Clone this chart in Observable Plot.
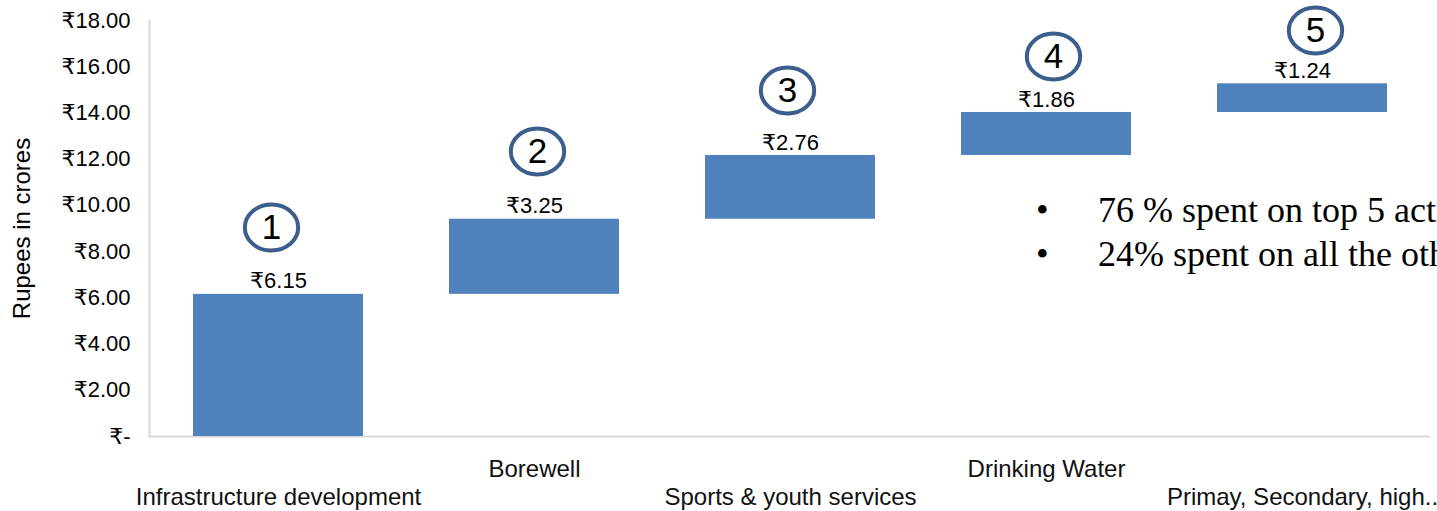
<!DOCTYPE html>
<html>
<head>
<meta charset="utf-8">
<script src="https://cdn.jsdelivr.net/npm/d3@7"></script>
<script src="https://cdn.jsdelivr.net/npm/@observablehq/plot@0.6"></script>
<style>
  html, body { margin: 0; padding: 0; background: #fff; overflow: hidden; }
  #wrap { position: relative; width: 1437px; height: 511px; overflow: hidden; }
  .notes { position: absolute; left: 1036px; top: 188px; font-family: "Liberation Serif", "Times New Roman", serif;
           font-size: 36px; line-height: 44px; white-space: nowrap; color: #000; }
  .notes .b { display: inline-block; width: 62px; }
</style>
</head>
<body>
<div id="wrap"></div>
<script>
// ---- data ----
const categories = [
  "Infrastructure development",
  "Borewell",
  "Sports & youth services",
  "Drinking Water",
  "Primay, Secondary, high.."
];
const amounts = [6.15, 3.25, 2.76, 1.86, 1.24];
const rankLabels = ["1", "2", "3", "4", "5"];
const yTicks = [0, 2, 4, 6, 8, 10, 12, 14, 16, 18];
const notes = ["76 % spent on top 5 activities", "24% spent on all the other activities"];

// annotation placement of the hand-drawn rank ovals (value level, pixel nudge)
const rankLevel = [9.04, 12.33, 14.97, 16.44, 17.57];
const rankNudge = [-7, 3, -3, 7, 13];

// ---- derived waterfall table ----
const ends = Array.from(d3.cumsum(amounts));
const steps = categories.map((c, i) => ({
  category: c,
  amount: amounts[i],
  start: ends[i] - amounts[i],
  end: ends[i],
  rank: rankLabels[i],
  level: rankLevel[i],
  nudge: rankNudge[i],
  row: i % 2
}));

const ellipse = {
  draw(ctx, size) {
    const r = Math.sqrt(size / Math.PI);
    const rx = r * 1.16, ry = r, k = 0.5523;
    ctx.moveTo(rx, 0);
    ctx.bezierCurveTo(rx, ry * k, rx * k, ry, 0, ry);
    ctx.bezierCurveTo(-rx * k, ry, -rx, ry * k, -rx, 0);
    ctx.bezierCurveTo(-rx, -ry * k, -rx * k, -ry, 0, -ry);
    ctx.bezierCurveTo(rx * k, -ry, rx, -ry * k, rx, 0);
    ctx.closePath();
  }
};

const font = '"Liberation Sans", Arial, "DejaVu Sans", sans-serif';

const rankMarks = steps.flatMap(d => [
  Plot.dot([d], {x: "category", y: "level", dx: d.nudge, r: 23, symbol: ellipse,
                 stroke: "#3B5E8C", strokeWidth: 4, fill: "none"}),
  Plot.text([d], {x: "category", y: "level", dx: d.nudge, text: "rank", fontSize: 35,
                  fill: "#000", lineAnchor: "middle"})
]);

const chart = Plot.plot({
  width: 1437,
  height: 511,
  marginLeft: 149,
  marginRight: 7,
  marginTop: 20,
  marginBottom: 75,
  style: {fontFamily: font, background: "#fff", color: "#000"},
  x: {domain: categories, paddingInner: 0.336, paddingOuter: 0.168, axis: null},
  y: {domain: [0, 18], axis: null},
  marks: [
    Plot.frame({anchor: "left", stroke: "#d9d9d9", strokeWidth: 2}),
    Plot.ruleY([0], {stroke: "#d9d9d9", strokeWidth: 2}),
    Plot.barY(steps, {x: "category", y1: "start", y2: "end", fill: "#4F81BD"}),
    Plot.text(steps, {x: "category", y: "end", text: d => "₹" + d.amount.toFixed(2),
                      dy: -13, fontSize: 22, fill: "#000"}),
    Plot.text(steps.filter(d => d.row === 1), {x: "category", y: 0, dy: 33, text: "category",
                      fontSize: 24, fill: "#111"}),
    Plot.text(steps.filter(d => d.row === 0), {x: "category", y: 0, dy: 61, text: "category",
                      fontSize: 24, fill: "#111"}),
    Plot.axisY({ticks: yTicks, tickFormat: v => v === 0 ? "₹-" : "₹" + v.toFixed(2),
                tickSize: 0, tickPadding: 19, fontSize: 22, label: null, fill: "#000"}),
    Plot.text(["Rupees in crores"], {frameAnchor: "left", text: d => d, rotate: -90,
                      textAnchor: "middle", dx: -127, fontSize: 24, fill: "#000"}),
    ...rankMarks
  ]
});

const wrap = document.getElementById("wrap");
wrap.appendChild(chart);
const nd = document.createElement("div");
nd.className = "notes";
nd.innerHTML = notes.map(t => `<div><span class="b">•</span>${t}</div>`).join("");
wrap.appendChild(nd);
</script>
</body>
</html>
